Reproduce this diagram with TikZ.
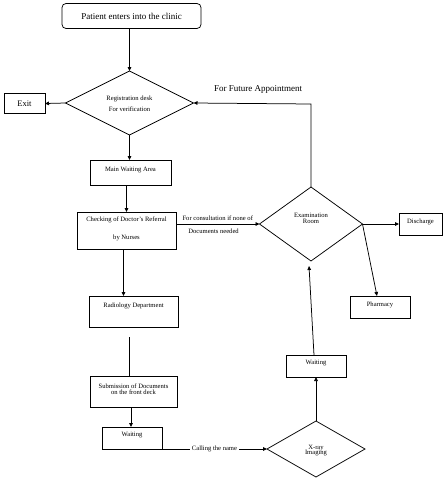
\documentclass[tikz,border=0pt]{standalone}
\usepackage{fontspec}
\setmainfont{Liberation Serif}
\usetikzlibrary{shapes.geometric,arrows.meta,calc}
\begin{document}
\begin{tikzpicture}[x=1pt,y=-1pt,
  every node/.style={inner sep=0pt,outer sep=0pt},
  ln/.style={line width=0.75pt,draw=black},
  arr/.style={ln,-{Triangle[length=4pt,width=3.6pt]}},
  box/.style={draw,line width=0.75pt,rectangle},
  dia/.style={draw,line width=0.75pt,diamond,aspect=2},
  tiny/.style={font=\fontsize{6.6}{7.5}\selectfont,align=center},
  big/.style={font=\fontsize{9}{10}\selectfont}]
\useasboundingbox (0,0) rectangle (446,488);
\fill[white] (0,0) rectangle (446,488);

% nodes
\node[box,rounded corners=4pt,minimum width=139,minimum height=25,big] (start) at (131.5,16) {Patient enters into the clinic};
\node[dia,minimum width=128,minimum height=64] (reg) at (129.5,103) {};
\node[tiny] (regt) at (129.5,103.5) {Registration desk\\[3.5pt]For verification};
\node[box,minimum width=41,minimum height=20,font=\fontsize{8.5}{9}\selectfont] (exit) at (24.5,103.5) {Exit};
\node[box,minimum width=81,minimum height=25] (mwa) at (130.5,172.5) {};
\node[tiny] (mwat) at (130.5,170.5) {Main Waiting Area};
\node[box,minimum width=99,minimum height=37] (check) at (126.5,230.5) {};
\node[tiny] (checkt) at (126.5,229) {Checking of Doctor's Referral\\[11pt]by Nurses};
\node[box,minimum width=89,minimum height=31] (rad) at (133.5,311.5) {};
\node[tiny] (radt) at (133.5,305.5) {Radiology Department};
\node[box,minimum width=87,minimum height=31] (sub) at (133.5,391.5) {};
\node[tiny] (subt) at (133.5,389) {Submission of Documents\\[-1.5pt]on the front deck};
\node[box,minimum width=60,minimum height=22] (wait1) at (132,438) {};
\node[tiny] (wait1t) at (132,435) {Waiting};
\node[dia,minimum width=98,minimum height=56] (xray) at (316,449) {};
\node[tiny] (xrayt) at (316,450.5) {X-ray\\[-2pt]Imaging};
\node[box,minimum width=60,minimum height=22] (wait2) at (316,366) {};
\node[tiny] (wait2t) at (316,363.5) {Waiting};
\node[dia,minimum width=103,minimum height=74] (exam) at (311,224) {};
\node[tiny] (examt) at (311,218.5) {Examination\\[-2pt]Room};
\node[box,minimum width=43,minimum height=22] (dis) at (420.5,224) {};
\node[tiny] (dist) at (420.5,221.5) {Discharge};
\node[box,minimum width=60,minimum height=22] (pharm) at (380,307) {};
\node[tiny] (pharmt) at (380,305) {Pharmacy};

\coordinate (radgap) at (129,337);
\coordinate (fut) at (311,104);

% connectors
\draw[arr] (start.south -| reg.north) -- (reg.north);
\draw[arr] (reg.west) -- (exit.east);
\draw[arr] (reg.south) -- (reg.south |- mwa.north);
\draw[arr] (mwa.south -| check.north) -- (check.north);
\draw[arr] ([xshift=-3pt]check.south) -- ([xshift=-3pt]check.south |- rad.north);
\draw[ln] (radgap) -- (radgap |- sub.north);
\draw[arr] ([xshift=-2.5pt]sub.south) -- ([xshift=-2.5pt]sub.south |- wait1.north);
\draw[arr] (wait1.south east) -- node[tiny,fill=white,inner xsep=2pt,inner ysep=1pt] (calling) {Calling the name} (xray.west);
\draw[arr] (xray.north) -- (wait2.south);
\draw[arr] ([xshift=-2pt]wait2.north) -- ([xshift=-2pt,yshift=-5pt]exam.south);
\draw[arr] (check.east |- exam.west) -- (exam.west)
  node[tiny,pos=0.5,above=3pt] (cons1) {For consultation if none of}
  node[tiny,pos=0.45,below=5pt] (cons2) {Documents needed};
\draw[arr] (exam.north) -- (fut) -- (reg.east);
\node[big] (futt) at (258,89) {For Future Appointment};
\draw[arr] (exam.east) -- (dis.west);
\draw[arr] (exam.east) -- ([xshift=-3pt]pharm.north);
\end{tikzpicture}
\end{document}
